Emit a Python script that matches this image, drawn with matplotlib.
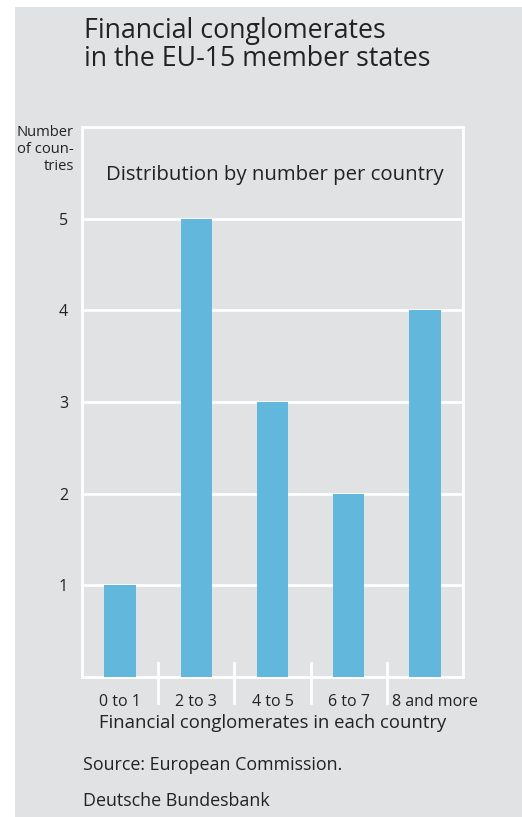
import matplotlib.pyplot as plt
from matplotlib.patches import Rectangle
from matplotlib.transforms import ScaledTranslation

plt.rcParams['font.family'] = ['Open Sans', 'DejaVu Sans']

categories = ['0 to 1', '2 to 3', '4 to 5', '6 to 7', '8 and more']
countries = [1, 5, 3, 2, 4]
yticks = [1, 2, 3, 4, 5]

bg = '#e1e2e4'
bar_col = '#62b8dc'
txt = '#222222'

W, H = 522, 817


def fx(px):
    return px / W


def fy(py):
    # pixel from top -> figure fraction from bottom
    return 1 - py / H


fig = plt.figure(figsize=(W / 100, H / 100), dpi=100, facecolor='white')
# grey panel behind everything
fig.patches.append(Rectangle((fx(15), 0), 1 - fx(15), fy(7), transform=fig.transFigure,
                             facecolor=bg, edgecolor='none', zorder=-5))

ax = fig.add_axes([fx(82), fy(677), fx(381), 550 / H])
ax.set_zorder(2)
ax.set_facecolor(bg)
x = range(len(categories))
ax.bar(x, countries, width=0.41, color=bar_col, zorder=3)
ax.set_xlim(-0.5, len(categories) - 0.5)
ax.set_ylim(0, 6)

for v in yticks:
    ax.axhline(v, color='white', lw=2, zorder=1)
for s in ax.spines.values():
    s.set_color('white')
    s.set_linewidth(2)

ax.set_yticks(yticks)
ax.set_yticklabels([str(v) for v in yticks], fontsize=11.5, color=txt)
ax.tick_params(axis='y', length=0, pad=10)
ax.set_xticks(list(x))
ax.set_xticklabels(categories, fontsize=11.5, color=txt)
ax.tick_params(axis='x', length=0, pad=12)
# last label sits a little right of its slot centre
lab = ax.get_xticklabels()[-1]
lab.set_transform(lab.get_transform() + ScaledTranslation(0.10, 0, fig.dpi_scale_trans))

# separator ticks between categories
for b in [0.5, 1.5, 2.5, 3.5]:
    ax.plot([b, b], [14 / 92, -26 / 92], color='white', lw=2, clip_on=False, zorder=2)

fig.text(fx(106), fy(175), 'Distribution by number per country', fontsize=14.7, color=txt,
         va='center', ha='left', zorder=5)

fig.text(fx(74), fy(125), 'Number\nof coun-\ntries', ha='right', va='top', fontsize=10.6,
         color=txt, linespacing=1.2)
fig.text(fx(84), fy(17), 'Financial conglomerates\nin the EU-15 member states', ha='left',
         va='top', fontsize=19.3, color=txt, linespacing=1.0)
fig.text(fx(99), fy(723), 'Financial conglomerates in each country', ha='left', va='center',
         fontsize=13.3, color=txt)
fig.text(fx(83), fy(765), 'Source: European Commission.', ha='left', va='center',
         fontsize=12.9, color=txt)
fig.text(fx(83), fy(801), 'Deutsche Bundesbank', ha='left', va='center',
         fontsize=12.9, color=txt)

fig.savefig('out.png', dpi=100, facecolor='white')
